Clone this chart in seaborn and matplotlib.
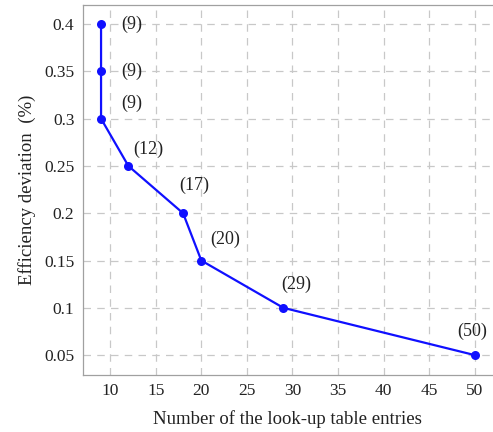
import matplotlib
matplotlib.use("Agg")
import matplotlib.pyplot as plt
import seaborn as sns
import pandas as pd

entries = [9, 9, 9, 12, 18, 20, 29, 50]
deviation = [0.40, 0.35, 0.30, 0.25, 0.20, 0.15, 0.10, 0.05]
labels = ["(9)", "(9)", "(9)", "(12)", "(17)", "(20)", "(29)", "(50)"]
xticks = [10, 15, 20, 25, 30, 35, 40, 45, 50]
yticks = [0.05, 0.1, 0.15, 0.2, 0.25, 0.3, 0.35, 0.4]
yticklabels = ["0.05", "0.1", "0.15", "0.2", "0.25", "0.3", "0.35", "0.4"]

sns.set_theme(style="white")
plt.rcParams["font.family"] = ["Liberation Serif", "DejaVu Serif"]

df = pd.DataFrame({"x": entries, "y": deviation})
fig = plt.figure(figsize=(4.93, 4.32), dpi=100)
ax = fig.add_axes([0.168, 0.132, 0.832, 0.856])

sns.lineplot(data=df, x="x", y="y", ax=ax, sort=False, estimator=None,
             errorbar=None, color="#1010ff",
             marker="o", markersize=6.5, markeredgewidth=0, linewidth=1.6, zorder=3)

offsets = [(22, 0), (22, 0), (22, 11), (14, 12), (8, 20), (17, 15), (9, 17), (-2, 17)]
for xv, yv, lab, off in zip(entries, deviation, labels, offsets):
    ax.annotate(lab, (xv, yv), xytext=off, textcoords="offset points",
                ha="center", va="center", fontsize=13, color="#222222")

ax.set_xlim(7, 52)
ax.set_ylim(0.029, 0.42)
ax.set_xticks(xticks)
ax.set_yticks(yticks)
ax.set_yticklabels(yticklabels)
ax.grid(True, linestyle=(0, (6, 5)), color="#c8c8c8", linewidth=0.9)
ax.tick_params(direction="in", length=4, color="#b0b0b0", labelsize=12.5,
               labelcolor="#222222", pad=6)
for side in ["left", "bottom", "top"]:
    ax.spines[side].set_color("#a0a0a0")
    ax.spines[side].set_linewidth(0.9)
ax.spines["right"].set_visible(False)
ax.set_xlabel("Number of the look-up table entries", fontsize=13.5, color="#222222", labelpad=8)
ax.set_ylabel("Efficiency deviation  (%)", fontsize=13.5, color="#222222", labelpad=6)

fig.savefig("out.png", dpi=100)
